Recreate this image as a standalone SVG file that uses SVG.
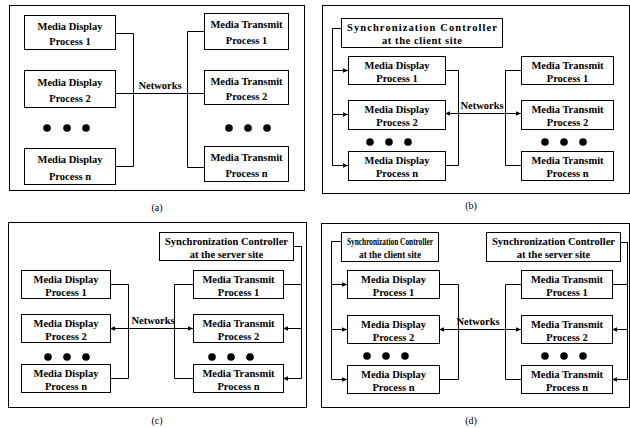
<svg xmlns="http://www.w3.org/2000/svg" width="630" height="428" viewBox="0 0 630 428">
<style>
.frame{fill:none;stroke:#000;stroke-width:1}
.box{fill:#fff;stroke:#000;stroke-width:1}
.conn{fill:none;stroke:#000;stroke-width:1}
.t{font-family:"Liberation Serif","Times New Roman",serif;font-size:10.5px;font-weight:bold;text-anchor:middle;fill:#000}
.lab{font-family:"Liberation Serif","Times New Roman",serif;font-size:10px;text-anchor:middle;fill:#000}
.dot{fill:#000}
</style>
<defs>
<marker id="ah" markerWidth="6" markerHeight="6" refX="5" refY="3" orient="auto-start-reverse" markerUnits="userSpaceOnUse"><path d="M0,0.8 L5,3 L0,5.2 z" fill="#000"/></marker>
</defs>
<rect width="630" height="428" fill="#fff"/>

<!-- Panel (a) -->
<g id="panel-a">
<rect class="frame" x="9.5" y="5.5" width="295" height="185"/>
<g id="connectors-a">
<polyline class="conn" points="115,33.5 133.5,33.5 133.5,166.5 115,166.5"/>
<line class="conn" x1="115" y1="93.5" x2="204" y2="93.5"/>
<polyline class="conn" points="204,31.5 187.5,31.5 187.5,167.5 204,167.5"/>
</g>
<g id="a-d1"><rect class="box" x="24.5" y="15.5" width="91" height="34"/><text class="t" x="70" y="30">Media Display</text><text class="t" x="70" y="45">Process 1</text></g>
<g id="a-d2"><rect class="box" x="24.5" y="70.5" width="91" height="37"/><text class="t" x="70" y="86">Media Display</text><text class="t" x="70" y="102">Process 2</text></g>
<g id="a-dn"><rect class="box" x="24.5" y="148.5" width="91" height="36"/><text class="t" x="70" y="163">Media Display</text><text class="t" x="70" y="180">Process n</text></g>
<g id="a-t1"><rect class="box" x="204.5" y="13.5" width="84" height="36"/><text class="t" x="246.5" y="28">Media Transmit</text><text class="t" x="246.5" y="44">Process 1</text></g>
<g id="a-t2"><rect class="box" x="204.5" y="70.5" width="84" height="34"/><text class="t" x="246.5" y="85">Media Transmit</text><text class="t" x="246.5" y="100">Process 2</text></g>
<g id="a-tn"><rect class="box" x="204.5" y="146.5" width="84" height="35"/><text class="t" x="246.5" y="161">Media Transmit</text><text class="t" x="246.5" y="177">Process n</text></g>
<text class="t" x="160" y="89">Networks</text>
<circle class="dot" cx="47" cy="128" r="3.8"/><circle class="dot" cx="67" cy="128" r="3.8"/><circle class="dot" cx="86" cy="128" r="3.8"/>
<circle class="dot" cx="229" cy="128" r="3.8"/><circle class="dot" cx="248" cy="128" r="3.8"/><circle class="dot" cx="267" cy="128" r="3.8"/>
<text class="lab" x="157" y="211">(a)</text>
</g>

<!-- Panel (b) -->
<g id="panel-b">
<rect class="frame" x="322.5" y="5.5" width="307" height="188"/>
<g id="connectors-b">
<polyline class="conn" points="341,28.5 332.5,28.5 332.5,165.5"/>
<line class="conn" x1="332.5" y1="70.5" x2="348" y2="70.5" marker-end="url(#ah)"/>
<line class="conn" x1="332.5" y1="114.5" x2="348" y2="114.5" marker-end="url(#ah)"/>
<line class="conn" x1="332.5" y1="165.5" x2="348" y2="165.5" marker-end="url(#ah)"/>
<polyline class="conn" points="445,70.5 458.5,70.5 458.5,165.5 445,165.5"/>
<line class="conn" x1="445" y1="113.5" x2="521" y2="113.5" marker-start="url(#ah)" marker-end="url(#ah)"/>
<polyline class="conn" points="521,70.5 505.5,70.5 505.5,165.5 521,165.5"/>
</g>
<g id="b-s"><rect class="box" x="341.5" y="18.5" width="161" height="29"/><text class="t" x="422" y="31" textLength="150" lengthAdjust="spacing">Synchronization Controller</text><text class="t" x="422" y="44" textLength="80" lengthAdjust="spacing">at the client site</text></g>
<g id="b-d1"><rect class="box" x="348.5" y="56.5" width="97" height="28"/><text class="t" x="397" y="69">Media Display</text><text class="t" x="397" y="82">Process 1</text></g>
<g id="b-d2"><rect class="box" x="348.5" y="100.5" width="97" height="29"/><text class="t" x="397" y="113">Media Display</text><text class="t" x="397" y="126">Process 2</text></g>
<g id="b-dn"><rect class="box" x="348.5" y="151.5" width="97" height="29"/><text class="t" x="397" y="164">Media Display</text><text class="t" x="397" y="177">Process n</text></g>
<g id="b-t1"><rect class="box" x="521.5" y="56.5" width="92" height="28"/><text class="t" x="567.5" y="69">Media Transmit</text><text class="t" x="567.5" y="82">Process 1</text></g>
<g id="b-t2"><rect class="box" x="521.5" y="100.5" width="92" height="29"/><text class="t" x="567.5" y="113">Media Transmit</text><text class="t" x="567.5" y="126">Process 2</text></g>
<g id="b-tn"><rect class="box" x="521.5" y="151.5" width="92" height="29"/><text class="t" x="567.5" y="164">Media Transmit</text><text class="t" x="567.5" y="177">Process n</text></g>
<text class="t" x="482" y="109">Networks</text>
<circle class="dot" cx="370" cy="142" r="3.8"/><circle class="dot" cx="389" cy="142" r="3.8"/><circle class="dot" cx="408" cy="142" r="3.8"/>
<circle class="dot" cx="545" cy="142" r="3.8"/><circle class="dot" cx="564" cy="142" r="3.8"/><circle class="dot" cx="583" cy="142" r="3.8"/>
<text class="lab" x="471" y="209">(b)</text>
</g>

<!-- Panel (c) -->
<g id="panel-c">
<rect class="frame" x="8.5" y="222.5" width="298" height="185"/>
<g id="connectors-c">
<polyline class="conn" points="110,284.5 128.5,284.5 128.5,378.5 110,378.5"/>
<line class="conn" x1="110" y1="328.5" x2="193" y2="328.5" marker-start="url(#ah)" marker-end="url(#ah)"/>
<polyline class="conn" points="193,284.5 174.5,284.5 174.5,378.5 193,378.5"/>
<polyline class="conn" points="293,246.5 301.5,246.5 301.5,378.5"/>
<line class="conn" x1="283" y1="284.5" x2="301.5" y2="284.5"/>
<line class="conn" x1="301.5" y1="328.5" x2="283" y2="328.5" marker-end="url(#ah)"/>
<line class="conn" x1="301.5" y1="378.5" x2="283" y2="378.5" marker-end="url(#ah)"/>
</g>
<g id="c-s"><rect class="box" x="159.5" y="232.5" width="134" height="28"/><text class="t" x="226.5" y="245">Synchronization Controller</text><text class="t" x="226.5" y="258">at the server site</text></g>
<g id="c-d1"><rect class="box" x="21.5" y="270.5" width="89" height="28"/><text class="t" x="66" y="283">Media Display</text><text class="t" x="66" y="296">Process 1</text></g>
<g id="c-d2"><rect class="box" x="21.5" y="314.5" width="89" height="28"/><text class="t" x="66" y="327">Media Display</text><text class="t" x="66" y="340">Process 2</text></g>
<g id="c-dn"><rect class="box" x="21.5" y="364.5" width="89" height="28"/><text class="t" x="66" y="377">Media Display</text><text class="t" x="66" y="390">Process n</text></g>
<g id="c-t1"><rect class="box" x="193.5" y="270.5" width="90" height="28"/><text class="t" x="238.5" y="283">Media Transmit</text><text class="t" x="238.5" y="296">Process 1</text></g>
<g id="c-t2"><rect class="box" x="193.5" y="314.5" width="90" height="28"/><text class="t" x="238.5" y="327">Media Transmit</text><text class="t" x="238.5" y="340">Process 2</text></g>
<g id="c-tn"><rect class="box" x="193.5" y="364.5" width="90" height="28"/><text class="t" x="238.5" y="377">Media Transmit</text><text class="t" x="238.5" y="390">Process n</text></g>
<text class="t" x="153" y="324">Networks</text>
<circle class="dot" cx="48" cy="357" r="3.8"/><circle class="dot" cx="67" cy="357" r="3.8"/><circle class="dot" cx="86" cy="357" r="3.8"/>
<circle class="dot" cx="212" cy="357" r="3.8"/><circle class="dot" cx="231" cy="357" r="3.8"/><circle class="dot" cx="250" cy="357" r="3.8"/>
<text class="lab" x="157" y="424">(c)</text>
</g>

<!-- Panel (d) -->
<g id="panel-d">
<rect class="frame" x="321.5" y="223.5" width="308" height="184"/>
<g id="connectors-d">
<polyline class="conn" points="341,241.5 331.5,241.5 331.5,379.5"/>
<line class="conn" x1="331.5" y1="284.5" x2="347" y2="284.5" marker-end="url(#ah)"/>
<line class="conn" x1="331.5" y1="329.5" x2="347" y2="329.5" marker-end="url(#ah)"/>
<line class="conn" x1="331.5" y1="379.5" x2="347" y2="379.5" marker-end="url(#ah)"/>
<polyline class="conn" points="439,284.5 458.5,284.5 458.5,379.5 439,379.5"/>
<line class="conn" x1="439" y1="329.5" x2="521" y2="329.5" marker-start="url(#ah)" marker-end="url(#ah)"/>
<polyline class="conn" points="521,284.5 505.5,284.5 505.5,379.5 521,379.5"/>
<polyline class="conn" points="621,242.5 627.5,242.5 627.5,379.5"/>
<line class="conn" x1="612" y1="284.5" x2="627.5" y2="284.5"/>
<line class="conn" x1="627.5" y1="329.5" x2="612" y2="329.5" marker-end="url(#ah)"/>
<line class="conn" x1="627.5" y1="379.5" x2="612" y2="379.5" marker-end="url(#ah)"/>
</g>
<g id="d-s1"><rect class="box" x="341.5" y="232.5" width="97" height="29"/><text class="t" x="390" y="245" textLength="86" lengthAdjust="spacingAndGlyphs">Synchronization Controller</text><text class="t" x="390" y="258" textLength="62" lengthAdjust="spacingAndGlyphs">at the client site</text></g>
<g id="d-s2"><rect class="box" x="486.5" y="232.5" width="134" height="29"/><text class="t" x="553.5" y="245">Synchronization Controller</text><text class="t" x="553.5" y="258">at the server site</text></g>
<g id="d-d1"><rect class="box" x="347.5" y="270.5" width="92" height="28"/><text class="t" x="393.5" y="283">Media Display</text><text class="t" x="393.5" y="296">Process 1</text></g>
<g id="d-d2"><rect class="box" x="347.5" y="315.5" width="92" height="28"/><text class="t" x="393.5" y="328">Media Display</text><text class="t" x="393.5" y="341">Process 2</text></g>
<g id="d-dn"><rect class="box" x="347.5" y="365.5" width="92" height="28"/><text class="t" x="393.5" y="378">Media Display</text><text class="t" x="393.5" y="391">Process n</text></g>
<g id="d-t1"><rect class="box" x="521.5" y="270.5" width="91" height="28"/><text class="t" x="567" y="283">Media Transmit</text><text class="t" x="567" y="296">Process 1</text></g>
<g id="d-t2"><rect class="box" x="521.5" y="315.5" width="91" height="28"/><text class="t" x="567" y="328">Media Transmit</text><text class="t" x="567" y="341">Process 2</text></g>
<g id="d-tn"><rect class="box" x="521.5" y="365.5" width="91" height="28"/><text class="t" x="567" y="378">Media Transmit</text><text class="t" x="567" y="391">Process n</text></g>
<text class="t" x="478" y="325">Networks</text>
<circle class="dot" cx="367" cy="356" r="3.8"/><circle class="dot" cx="386" cy="356" r="3.8"/><circle class="dot" cx="405" cy="356" r="3.8"/>
<circle class="dot" cx="545" cy="356" r="3.8"/><circle class="dot" cx="564" cy="356" r="3.8"/><circle class="dot" cx="583" cy="356" r="3.8"/>
<text class="lab" x="471" y="424">(d)</text>
</g>
</svg>
